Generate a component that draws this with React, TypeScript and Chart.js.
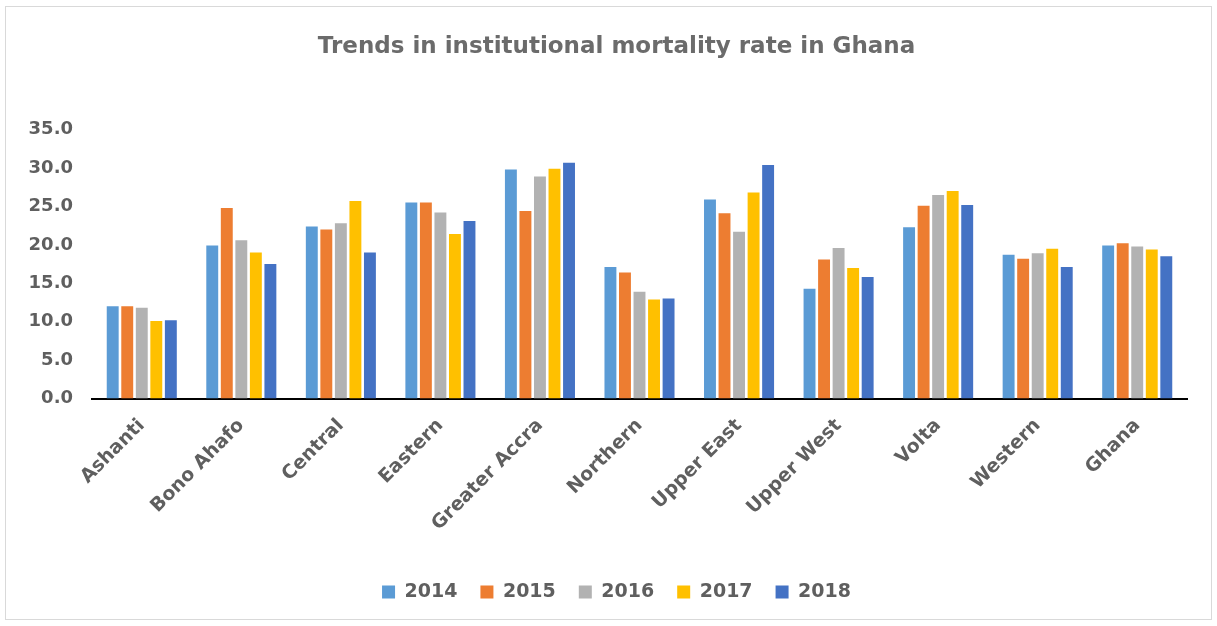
import React, { useEffect, useRef } from "react";
import { Chart, registerables } from "chart.js";

Chart.register(...registerables);

const regions = ["Ashanti", "Bono Ahafo", "Central", "Eastern", "Greater Accra", "Northern", "Upper East", "Upper West", "Volta", "Western", "Ghana"];
const years = ["2014", "2015", "2016", "2017", "2018"];
const v2014 = [12.0, 19.9, 22.4, 25.5, 29.8, 17.1, 25.9, 14.3, 22.3, 18.7, 19.9];
const v2015 = [12.0, 24.8, 22.0, 25.5, 24.4, 16.4, 24.1, 18.1, 25.1, 18.2, 20.2];
const v2016 = [11.8, 20.6, 22.8, 24.2, 28.9, 13.9, 21.7, 19.6, 26.5, 18.9, 19.8];
const v2017 = [10.1, 19.0, 25.7, 21.4, 29.9, 12.9, 26.8, 17.0, 27.0, 19.5, 19.4];
const v2018 = [10.2, 17.5, 19.0, 23.1, 30.7, 13.0, 30.4, 15.8, 25.2, 17.1, 18.5];
const colors = ["#5B9BD5", "#ED7D31", "#B2B2B2", "#FFC000", "#4472C4"];
const yTicks = [0, 5, 10, 15, 20, 25, 30, 35];

const FONT = "'DejaVu Sans', sans-serif";
const TEXT = "#5f5f5f";

const shiftBlocks = {
  id: "shiftBlocks",
  afterLayout(chart: any) {
    for (const b of [chart.legend, chart.titleBlock]) {
      if (b) {
        b.left += 20;
        b.right += 20;
      }
    }
  },
};

export default function App() {
  const ref = useRef<HTMLCanvasElement | null>(null);
  useEffect(() => {
    if (!ref.current) return;
    const series = [v2014, v2015, v2016, v2017, v2018];
    const chart = new Chart(ref.current, {
      type: "bar",
      data: {
        labels: regions,
        datasets: years.map((y, i) => ({
          label: y,
          data: series[i],
          backgroundColor: colors[i],
          borderWidth: 0,
          categoryPercentage: 0.73,
          barPercentage: 0.82,
        })),
      },
      plugins: [shiftBlocks],
      options: {
        responsive: false,
        animation: false,
        layout: { padding: { left: 0, right: 24, top: 0, bottom: 7.5 } },
        plugins: {
          title: {
            display: true,
            text: "Trends in institutional mortality rate in Ghana",
            color: "#6b6b6b",
            font: { family: FONT, size: 23, weight: "bold" },
            padding: { top: 26, bottom: 69 },
          },
          legend: {
            position: "bottom",
            labels: {
              boxWidth: 13,
              boxHeight: 13,
              padding: 23,
              color: TEXT,
              font: { family: FONT, size: 19, weight: "bold" },
            },
          },
          tooltip: { enabled: false },
        },
        scales: {
          x: {
            grid: { display: false, drawTicks: false },
            border: { display: true, color: "#000", width: 2 },
            afterFit: (axis: any) => {
              axis.height = 161;
            },
            ticks: {
              color: TEXT,
              font: { family: FONT, size: 19, weight: "bold" },
              maxRotation: 45,
              minRotation: 45,
              padding: 16,
              autoSkip: false,
            },
          },
          y: {
            min: 0,
            max: 35,
            afterBuildTicks: (axis: any) => {
              axis.ticks = yTicks.map((v) => ({ value: v }));
            },
            afterFit: (axis: any) => {
              axis.width = 86;
            },
            grid: { display: false, drawTicks: false },
            border: { display: false },
            ticks: {
              color: TEXT,
              font: { family: FONT, size: 18, weight: "bold" },
              padding: 19,
              callback: (v: any) => Number(v).toFixed(1),
            },
          },
        },
      },
    });
    return () => chart.destroy();
  }, []);
  return (
    <div
      style={{
        position: "absolute",
        left: 5,
        top: 6,
        width: 1205,
        height: 612,
        border: "1px solid #d9d9d9",
        background: "#fff",
      }}
    >
      <canvas ref={ref} width={1205} height={612} style={{ display: "block" }} />
    </div>
  );
}
